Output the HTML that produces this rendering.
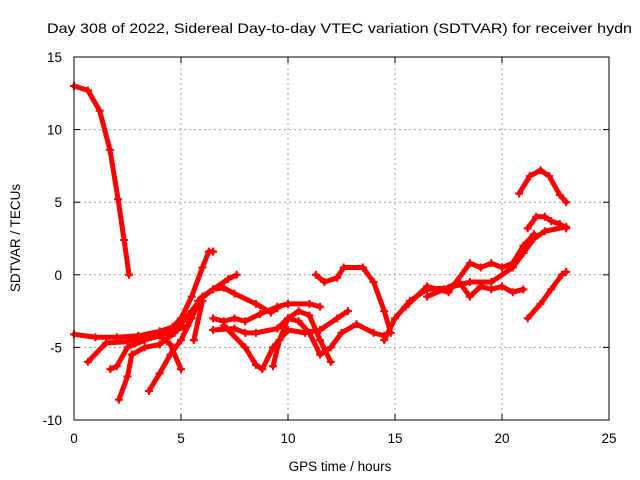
<!DOCTYPE html>
<html><head><meta charset="utf-8"><style>
body{margin:0;background:#fff;overflow:hidden}
svg{display:block;font-family:"Liberation Sans",sans-serif}
</style></head><body>
<svg id="c" width="640" height="480">
<text x="47" y="33" font-size="14" textLength="585" lengthAdjust="spacingAndGlyphs" fill="#000">Day 308 of 2022, Sidereal Day-to-day VTEC variation (SDTVAR) for receiver hydn</text>
<text x="340" y="471" font-size="13.5" text-anchor="middle">GPS time / hours</text>
<text transform="translate(20,238) rotate(-90)" font-size="13.5" text-anchor="middle">SDTVAR / TECUs</text>
<g id="grid"></g><g id="series"></g>
<rect x="74" y="57" width="535" height="363" fill="none" stroke="#000" stroke-width="1"/>
</svg>
<script>
const xTicks=[0,5,10,15,20,25];
const yTicks=[-10,-5,0,5,10,15];
const sA=[[0,13],[0.65,12.7],[1.2,11.3],[1.68,8.6],[2.06,5.2],[2.34,2.4],[2.57,0]];
const sB=[[0,-4.1],[1,-4.3],[2,-4.3],[3,-4.2],[4,-3.9],[4.6,-3.6],[5,-3],[5.5,-1.5],[6,0.5],[6.3,1.6],[6.5,1.6]];
const sC=[[0.65,-6],[1.5,-4.7],[2.5,-4.6],[3.5,-4.3],[4.5,-4.0],[5.3,-3.5],[5.8,-1.8],[6.5,-1],[7,-0.9],[7.5,-1.3],[8.5,-2],[9.2,-2.6],[9.5,-2.3]];
const sD=[[1.7,-6.5],[2.0,-6.3],[2.5,-5],[3.3,-4.5],[4.0,-4.2],[4.5,-4.8],[5,-6.5]];
const sE=[[2.1,-8.6],[2.5,-7],[2.7,-5.5],[3.3,-5],[4,-4.8],[4.7,-4],[5.2,-3],[5.5,-2.5],[6,-1.5],[6.5,-1],[7.2,-0.3],[7.6,0]];
const sF=[[3.5,-8],[4,-6.8],[4.5,-5.5],[5,-4.5],[5.5,-3],[5.7,-2.3],[6,-1.8],[5.6,-4.5]];
const sG=[[6.5,-3],[7,-3.2],[7.5,-3],[8,-3.2],[8.7,-2.7],[9.5,-2.2],[10,-2],[11,-2],[11.5,-2.2]];
const sH=[[6.5,-3.8],[7.5,-3.7],[8,-4],[8.5,-4],[9.5,-3.7],[10,-3.0],[10.5,-2.5],[11,-2.8],[11.5,-4.5],[12,-6]];
const sI=[[7,-3.5],[8,-5],[8.5,-6.2],[8.8,-6.5],[9.3,-5],[10,-3.8],[10.8,-4],[11.5,-3.8],[12.3,-3],[12.8,-2.5]];
const sJ=[[9.3,-6.3],[9.6,-4.5],[10,-3],[10.5,-3.2],[11,-4],[11.5,-5.5],[12,-5],[12.5,-4],[13.2,-3.4],[14,-4],[14.5,-4.2]];
const sK=[[11.3,0],[11.7,-0.5],[12.3,-0.2],[12.6,0.5],[13.5,0.5],[14,-0.5],[14.5,-2.5],[14.8,-4]];
const sL=[[14.5,-4.5],[15,-3],[15.7,-1.8],[16.5,-1],[17.5,-0.9],[18.5,-0.5],[19.5,-0.5],[20.5,0.5],[21,1.5],[21.5,2.5],[22,3],[23,3.3]];
const sM=[[15.5,-2.2],[16.5,-0.8],[17.5,-1.2],[18.5,0.8],[19,0.5],[19.5,0.8],[20,0.5],[20.5,0.8],[21,2],[21.5,2.8]];
const sN=[[16.5,-1.5],[17.3,-1],[18,-0.5],[18.5,-1.5],[19,-0.8],[19.5,-1],[20,-0.8],[20.5,-1.2],[21,-1.0]];
const sO=[[20.8,5.6],[21.3,6.8],[21.8,7.2],[22.2,6.8],[22.7,5.5],[23,5]];
const sP=[[21.2,3.2],[21.6,4],[22,4],[22.3,3.7],[22.7,3.5],[23,3.2]];
const sQ=[[21.2,-3],[21.8,-2],[22.3,-1],[22.8,0],[23,0.2]];
const allSeries=[sA,sB,sC,sD,sE,sF,sG,sH,sI,sJ,sK,sL,sM,sN,sO,sP,sQ];
const X0=74,X1=609,Y0=420,Y1=57;
function xs(v){return X0+(v-0)/(25-0)*(X1-X0);}
function ys(v){return Y0-(v+10)/(15+10)*(Y0-Y1);}
const NS="http://www.w3.org/2000/svg";
const svg=document.getElementById('c'),grid=document.getElementById('grid'),ser=document.getElementById('series');
function mk(t,a,p){const e=document.createElementNS(NS,t);for(const k in a)e.setAttribute(k,a[k]);(p||svg).appendChild(e);return e;}
xTicks.forEach(t=>{const x=xs(t);
 if(t>0&&t<25){const g=mk('line',{x1:x,x2:x,y1:Y0,y2:Y1,stroke:'#a0a0a0','stroke-dasharray':'2,3'},grid);
 
 }
 mk('line',{x1:x,x2:x,y1:Y0,y2:Y0-6,stroke:'#000'},grid);mk('line',{x1:x,x2:x,y1:Y1,y2:Y1+6,stroke:'#000'},grid);
 const l=mk('text',{x:x,y:443,'font-size':13.5,'text-anchor':'middle'});l.textContent=t;
 
 });
yTicks.forEach(t=>{const y=ys(t);
 if(t>-10&&t<15){const g=mk('line',{x1:X0,x2:X1,y1:y,y2:y,stroke:'#a0a0a0','stroke-dasharray':'2,3'},grid);
 
 }
 mk('line',{x1:X0,x2:X0+6,y1:y,y2:y,stroke:'#000'},grid);mk('line',{x1:X1,x2:X1-6,y1:y,y2:y,stroke:'#000'},grid);
 const l=mk('text',{x:62,y:y+5,'font-size':13.5,'text-anchor':'end'});l.textContent=t;
 
 });
allSeries.forEach((s,i)=>{
 const pl=mk('polyline',{points:s.map(p=>xs(p[0])+','+ys(p[1])).join(' '),fill:'none',stroke:'#ff0000','stroke-width':5,'stroke-linejoin':'round','stroke-linecap':'round'},ser);
 
 
 s.forEach(p=>{const x=xs(p[0]),y=ys(p[1]);
  const m=mk('path',{d:`M${x-4},${y}H${x+4}M${x},${y-4}V${y+4}`,stroke:'#ff0000','stroke-width':2},ser);
  
  });
});
</script>
</body></html>
